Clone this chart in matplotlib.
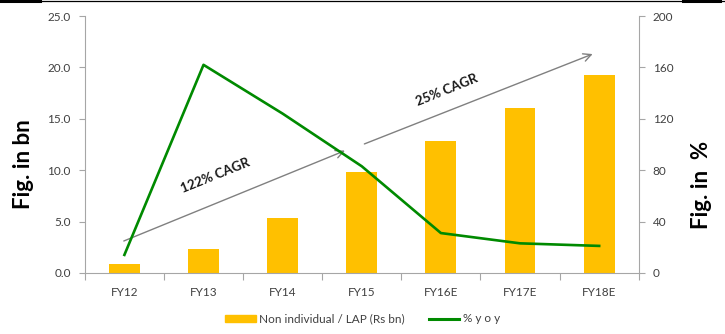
import matplotlib
matplotlib.use("Agg")
import matplotlib.pyplot as plt
from matplotlib.lines import Line2D
from matplotlib.patches import Patch

plt.rcParams['font.family'] = ['Lato', 'DejaVu Sans']

categories = ["FY12", "FY13", "FY14", "FY15", "FY16E", "FY17E", "FY18E"]
loan_book = [0.9, 2.3, 5.3, 9.8, 12.8, 16.0, 19.3]      # Rs bn
yoy_growth = [14, 162, 124, 83, 31, 23, 21]              # %
left_ticks = [0.0, 5.0, 10.0, 15.0, 20.0, 25.0]
right_ticks = [0, 40, 80, 120, 160, 200]

BAR = "#FFC000"
LINE = "#008A00"
GREY = "#A6A6A6"
TXT = "#404040"

fig = plt.figure(figsize=(7.25, 3.34), dpi=100)
ax = fig.add_axes([0.117, 0.183, 0.764, 0.769])
ax2 = ax.twinx()

x = list(range(len(categories)))
ax.bar(x, loan_book, width=0.39, color=BAR, zorder=2)
ax2.plot(x, yoy_growth, color=LINE, lw=1.9, zorder=3)

ax.set_xlim(-0.5, 6.5)
ax.set_ylim(0, 25)
ax2.set_ylim(0, 200)
ax.set_yticks(left_ticks)
ax.set_yticklabels([f"{v:.1f}" for v in left_ticks])
ax2.set_yticks(right_ticks)
ax.set_xticks(x)
ax.set_xticklabels(categories)
ax.set_xticks([i + 0.5 for i in range(-1, 7)], minor=True)

for a in (ax, ax2):
    for s in a.spines.values():
        s.set_color(GREY)
        s.set_linewidth(0.8)
    a.spines['top'].set_visible(False)
ax.spines['right'].set_visible(False)
ax2.spines['left'].set_visible(False)
ax2.spines['bottom'].set_visible(False)

ax.tick_params(axis='y', colors=GREY, labelcolor=TXT, labelsize=8.5, length=4, width=0.8, pad=6)
ax2.tick_params(axis='y', colors=GREY, labelcolor=TXT, labelsize=8.5, length=4, width=0.8, pad=6)
ax.tick_params(axis='x', which='major', length=0, labelcolor=TXT, labelsize=8.5, pad=10)
ax.tick_params(axis='x', which='minor', colors=GREY, length=5, width=0.8)

# axis titles
fig.text(23 / 725, 1 - 164 / 334, "Fig. in bn", rotation=90, fontsize=16, fontweight='bold',
         color='black', ha='center', va='center')
fig.text(702 / 725, 1 - 185 / 334, "Fig. in  %", rotation=90, fontsize=16, fontweight='bold',
         color='black', ha='center', va='center')

# CAGR arrows
arrow_style = dict(arrowstyle='->', color='#808080', lw=1.0, mutation_scale=14)
ax.annotate("", xy=(2.82, 12.0), xytext=(-0.04, 3.0), arrowprops=arrow_style, zorder=4)
ax.annotate("", xy=(5.95, 21.4), xytext=(3.0, 12.45), arrowprops=arrow_style, zorder=4)
ax.text(1.15, 9.5, "122% CAGR", rotation=22, fontsize=9.5, fontweight='bold',
        color='#1a1a1a', ha='center', va='center', zorder=5)
ax.text(4.07, 17.8, "25% CAGR", rotation=22, fontsize=9.5, fontweight='bold',
        color='#1a1a1a', ha='center', va='center', zorder=5)

handles = [Patch(facecolor=BAR, edgecolor=BAR), Line2D([0], [0], color=LINE, lw=2.2)]
fig.legend(handles, ["Non individual / LAP (Rs bn)", "% y o y"], loc='center',
           bbox_to_anchor=(0.5, 0.045), ncol=2, frameon=False, fontsize=8.5,
           handlelength=2.6, handleheight=0.6, columnspacing=2.0, handletextpad=0.3,
           labelcolor=TXT)

# top rule
fig.add_artist(Line2D([0, 1], [0.998, 0.998], color='black', lw=0.9, transform=fig.transFigure))
fig.add_artist(Line2D([0, 40 / 725], [0.996, 0.996], color='black', lw=2.2, transform=fig.transFigure))
fig.add_artist(Line2D([683 / 725, 720 / 725], [0.996, 0.996], color='black', lw=2.2, transform=fig.transFigure))

fig.savefig("out.png", dpi=100)
